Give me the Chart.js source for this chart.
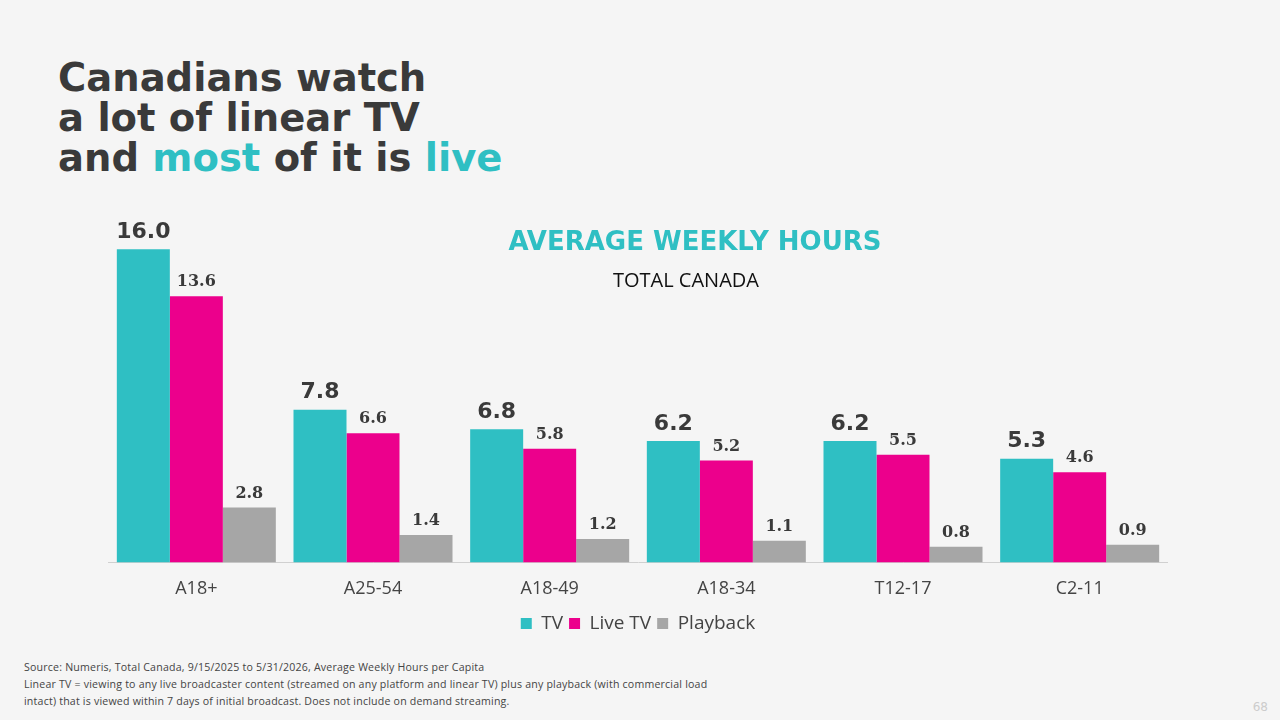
<!DOCTYPE html>
<html><head><meta charset="utf-8">
<script src="https://cdn.jsdelivr.net/npm/chart.js@4"></script>
<style>
body{margin:0;width:1280px;height:720px;background:#f5f5f5;font-family:"DejaVu Sans",sans-serif;position:relative;overflow:hidden}
h1{position:absolute;left:58px;top:58px;margin:0;font-size:38.5px;line-height:40px;color:#3a3a3a;font-weight:bold}
h1 span{color:#2fbfc3}
.sub1{position:absolute;left:500px;top:226px;width:390px;text-align:center;color:#2fbfc3;font-weight:bold;font-size:26px}
.sub2{position:absolute;left:500px;top:266px;width:372px;text-align:center;color:#111;font-size:20px;font-family:"Open Sans",sans-serif}
#wrap{position:absolute;left:100px;top:200px;width:1068px;height:443px}
.foot{position:absolute;left:24px;top:659px;font-size:10.6px;line-height:17px;color:#444;font-family:"Open Sans",sans-serif;letter-spacing:0.2px}
.pg{position:absolute;right:12px;top:700px;font-size:12px;color:#ccc}
</style></head><body>
<h1>Canadians watch<br>a lot of linear TV<br>and <span>most</span> of it is <span>live</span></h1>
<div id="wrap"><canvas id="c"></canvas></div>
<div class="sub1">AVERAGE WEEKLY HOURS</div>
<div class="sub2">TOTAL CANADA</div>
<div class="foot">Source: Numeris, Total Canada, 9/15/2025 to 5/31/2026, Average Weekly Hours per Capita<br>Linear TV = viewing to any live broadcaster content (streamed on any platform and linear TV) plus any playback (with commercial load<br>intact) that is viewed within 7 days of initial broadcast. Does not include on demand streaming.</div>
<div class="pg">68</div>
<script>
const categories = ['A18+', 'A25-54', 'A18-49', 'A18-34', 'T12-17', 'C2-11'];
const tvValues = [16.0, 7.8, 6.8, 6.2, 6.2, 5.3];
const liveValues = [13.6, 6.6, 5.8, 5.2, 5.5, 4.6];
const playbackValues = [2.8, 1.4, 1.2, 1.1, 0.8, 0.9];

const barLabels = {
  id: 'barLabels',
  afterDatasetsDraw(chart) {
    const ctx = chart.ctx;
    chart.data.datasets.forEach((ds, i) => {
      chart.getDatasetMeta(i).data.forEach((bar, j) => {
        ctx.save();
        ctx.textAlign = 'center';
        ctx.textBaseline = 'bottom';
        if (i === 0) { ctx.font = 'bold 22px "DejaVu Sans"'; ctx.fillStyle = '#3a3a3a'; }
        else { ctx.font = 'bold 16px "DejaVu Serif"'; ctx.fillStyle = '#3a3a3a'; }
        ctx.fillText(ds.data[j].toFixed(1), bar.x, bar.y - 6);
        ctx.restore();
      });
    });
  },
};

new Chart(document.getElementById('c'), {
  type: 'bar',
  data: {
    labels: categories,
    datasets: [
      { label: 'TV', data: tvValues, backgroundColor: '#2fbfc3' },
      { label: 'Live TV', data: liveValues, backgroundColor: '#ec008c' },
      { label: 'Playback', data: playbackValues, backgroundColor: '#a6a6a6' },
    ],
  },
  options: {
    responsive: true, maintainAspectRatio: false, animation: false,
    categoryPercentage: 0.9, barPercentage: 1,
    layout: { padding: { top: 10, left: 8, right: 0 } },
    plugins: {
      tooltip: { enabled: false },
      legend: { position: 'bottom', labels: { boxWidth: 11, boxHeight: 11, padding: 6, color: '#444', font: { size: 19, family: 'Open Sans' } } },
    },
    scales: {
      x: { grid: { display: false }, border: { color: '#d0d0d0' }, ticks: { color: '#444', padding: 8, font: { size: 18, family: 'Open Sans' } } },
      y: { display: false, min: 0, max: 18 },
    },
  },
  plugins: [barLabels],
});
</script>
</body></html>
